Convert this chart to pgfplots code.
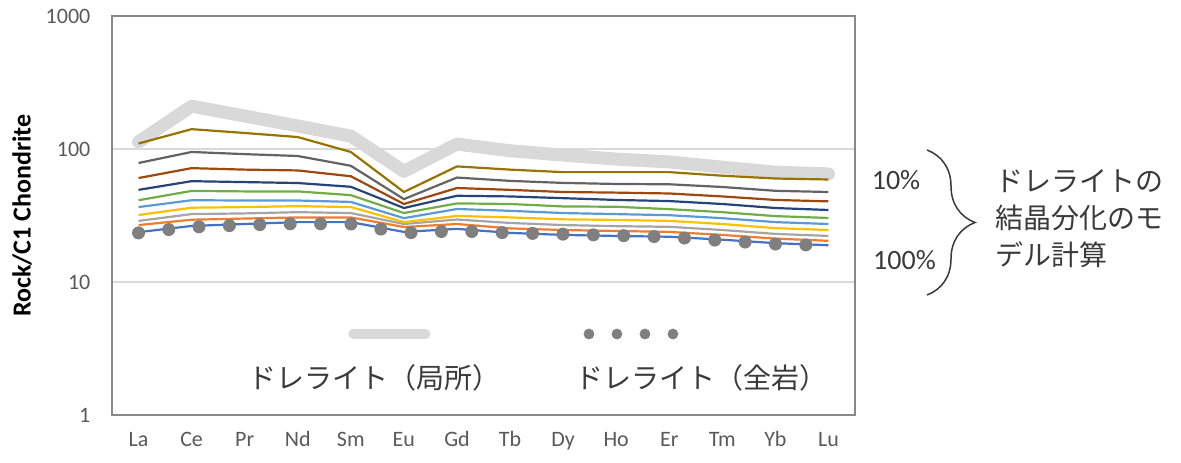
\documentclass[border=0pt]{standalone}
\usepackage{fontspec}
\setmainfont{Carlito}
\newfontfamily\jp{Noto Sans CJK JP}
\usepackage{pgfplots}
\pgfplotsset{compat=1.18}
\usepackage{pgfplotstable}
\usetikzlibrary{decorations.pathreplacing}

\definecolor{c10}{HTML}{997300}
\definecolor{c20}{HTML}{636363}
\definecolor{c30}{HTML}{9E480E}
\definecolor{c40}{HTML}{264478}
\definecolor{c50}{HTML}{70AD47}
\definecolor{c60}{HTML}{5B9BD5}
\definecolor{c70}{HTML}{FFC000}
\definecolor{c80}{HTML}{A5A5A5}
\definecolor{c90}{HTML}{ED7D31}
\definecolor{c100}{HTML}{4472C4}
\definecolor{localgray}{HTML}{D9D9D9}
\definecolor{dotgray}{HTML}{7F7F7F}
\definecolor{gridgray}{HTML}{D9D9D9}
\definecolor{framegray}{HTML}{898989}
\definecolor{tickgray}{HTML}{595959}
\definecolor{jpgray}{HTML}{3A3A3A}

\pgfplotstableread{
x  local s10  s20  s30  s40  s50  s60  s70  s80  s90  s100 wr
0  113   110  78.5 60.5 49.3 41.2 36.6 31.9 28.8 26.8 23.7 23.4
1  210   141  95   71.8 57.3 48.4 41.2 36.2 32.4 29.4 26.4 25.9
2  177   132  91.5 70   56.4 48   41   36.6 32.8 30   27.3 26.8
3  149   123  88.6 69   55.5 48   41   37.2 33.5 30.6 28.2 27.5
4  125   95   74.8 62.4 52   45   40   36.6 33   30.6 28.2 27.3
5  68    47.5 42   38.6 36   33   30.2 28.2 27.3 25.9 23.8 23.4
6  109   74   61   50.9 44.5 39   35.4 31.4 29.5 27.3 25.1 24.2
7  97    70   57.6 49.3 44   38.6 34.3 30.6 27.8 25.3 23.4 23.4
8  90    67   55.6 47.5 42.7 37   33   29.6 26.8 24.6 22.6 22.9
9  84    67   54.6 47   41.4 36.8 32.4 29.3 26.3 24.2 22.2 22.4
10 80    67   54.3 46.3 40.6 35.3 31.8 28.8 26   23.8 21.9 21.8
11 73    63   51.8 44   38.6 33.5 30.2 27.3 24.6 22.6 20.8 20.5
12 67    60   48.5 41.4 36   31.3 28.2 25.4 23   21.2 19.6 19.3
13 65    59   47.5 40.4 34.8 30.3 27.3 24.6 22.2 20.4 18.9 18.8
}\ree

\begin{document}
\begin{tikzpicture}
\useasboundingbox (-56pt,-23.5pt) rectangle (534.5pt,207.5pt);
\begin{axis}[
  at={(0,0)}, anchor=south west,
  scale only axis, width=371.5pt, height=199.5pt,
  xmin=-0.5, xmax=13.5,
  xtick={0,...,13},
  xticklabels={La,Ce,Pr,Nd,Sm,Eu,Gd,Tb,Dy,Ho,Er,Tm,Yb,Lu},
  ymode=log, ymin=1, ymax=1000,
  ytick={1,10,100,1000}, yticklabels={1,10,100,1000},
  minor ytick={},
  ymajorgrids,
  major grid style={color=gridgray, line width=0.6pt},
  major tick length=0pt, minor tick length=0pt,
  axis line style={color=framegray, line width=0.8pt},
  tick label style={font=\fontsize{11}{13}\selectfont, color=tickgray},
  xticklabel style={text height=8pt, text depth=2pt, yshift=-4pt},
  yticklabel style={xshift=-7.3pt},
  /pgf/number format/assume math mode=true,
  ylabel={Rock/C1 Chondrite},
  ylabel style={at={(axis description cs:-0.121,0.5)}, anchor=center,
    font=\bfseries\fontsize{13}{15}\selectfont, color=black},
  legend style={draw=none, fill=none, legend columns=2,
    at={(axis description cs:0.1695,0.0927)}, anchor=west,
    font=\jp\fontsize{14}{16}\selectfont, text=jpgray,
    /tikz/every even column/.append style={column sep=33.6pt}},
  legend cell align=left,
]
\addplot[color=localgray, line width=6.5pt, line cap=round, line join=round,
  legend image code/.code={\draw[overlay, color=localgray, line width=5pt, line cap=round, solid] (54.5pt,22pt) -- (90.5pt,22pt);}]
  table[x=x,y=local]{\ree};
\addlegendentry{ドレライト（局所）}
\addplot[color=c100, line width=1.1pt, forget plot] table[x=x,y=s100]{\ree};
\addplot[color=c90,  line width=1.1pt, forget plot] table[x=x,y=s90]{\ree};
\addplot[color=c80,  line width=1.1pt, forget plot] table[x=x,y=s80]{\ree};
\addplot[color=c70,  line width=1.1pt, forget plot] table[x=x,y=s70]{\ree};
\addplot[color=c60,  line width=1.1pt, forget plot] table[x=x,y=s60]{\ree};
\addplot[color=c50,  line width=1.1pt, forget plot] table[x=x,y=s50]{\ree};
\addplot[color=c40,  line width=1.1pt, forget plot] table[x=x,y=s40]{\ree};
\addplot[color=c30,  line width=1.1pt, forget plot] table[x=x,y=s30]{\ree};
\addplot[color=c20,  line width=1.1pt, forget plot] table[x=x,y=s20]{\ree};
\addplot[color=c10,  line width=1.1pt, forget plot] table[x=x,y=s10]{\ree};
\addplot[color=dotgray, line width=6.5pt, line cap=round, line join=round,
  dash pattern=on 0pt off 15.2pt,
  legend image code/.code={\foreach \xx in {8.7pt,22.7pt,36.7pt,50.7pt} \path[overlay, fill=dotgray, draw=none, solid] (\xx,22pt) circle[radius=2.7pt];}]
  table[x=x,y=wr]{\ree};
\addlegendentry{ドレライト（全岩）}
\end{axis}
\node[font=\fontsize{14}{16}\selectfont, text=jpgray, inner sep=0pt] at (392pt,117.5pt) {10\%};
\node[font=\fontsize{14}{16}\selectfont, text=jpgray, inner sep=0pt] at (396.25pt,77.5pt) {100\%};
\draw[jpgray, line width=0.75pt, decorate, decoration={brace, amplitude=24pt}] (407.5pt,132.5pt) -- (407.5pt,60pt);
\node[font=\jp\fontsize{14}{16}\selectfont, text=jpgray, anchor=west, inner sep=0pt] at (441.5pt,117pt) {ドレライトの};
\node[font=\jp\fontsize{14}{16}\selectfont, text=jpgray, anchor=west, inner sep=0pt] at (441.5pt,98.5pt) {結晶分化のモ};
\node[font=\jp\fontsize{14}{16}\selectfont, text=jpgray, anchor=west, inner sep=0pt] at (441.5pt,80pt) {デル計算};
\end{tikzpicture}
\end{document}
